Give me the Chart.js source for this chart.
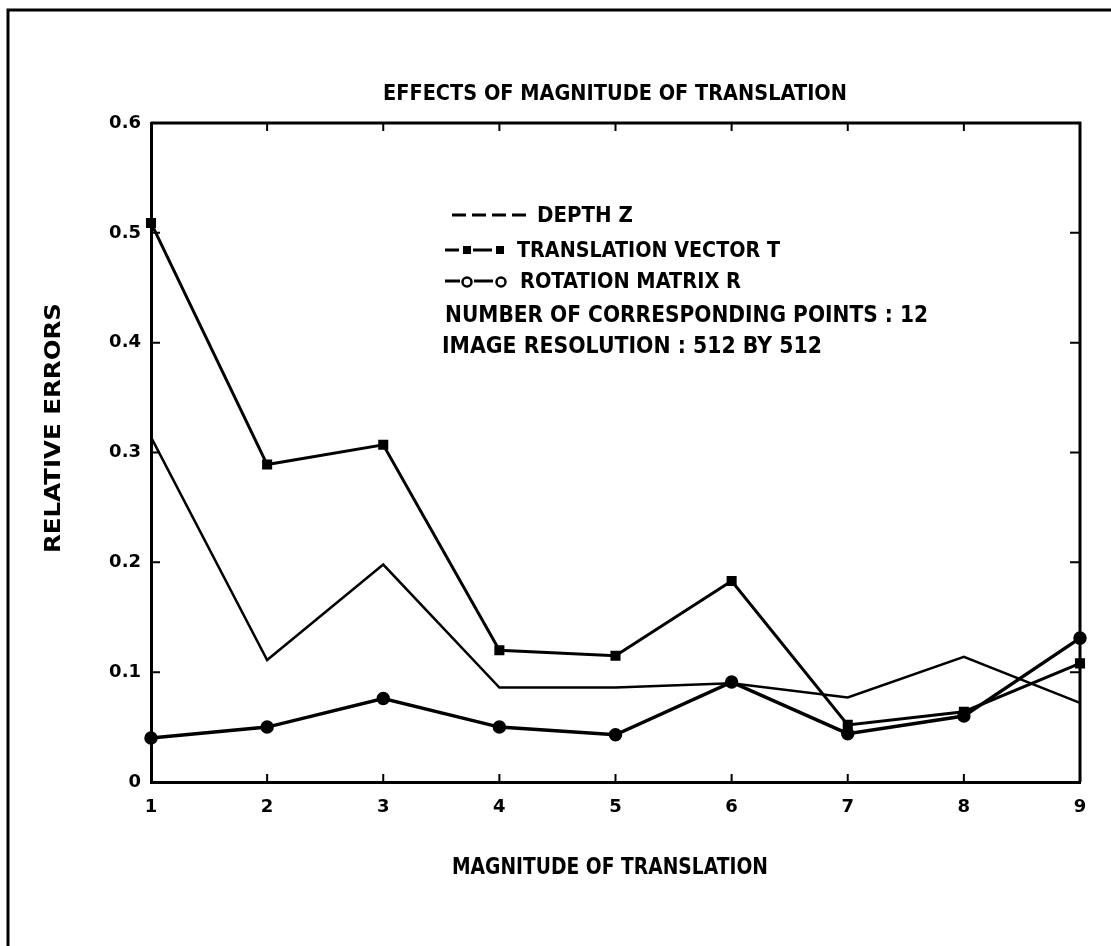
<!DOCTYPE html>
<html>
<head>
<meta charset="utf-8">
<script src="https://cdn.jsdelivr.net/npm/chart.js@4/dist/chart.umd.min.js"></script>
<style>
  html, body { margin: 0; padding: 0; background: #fff; }
  #wrap { width: 1111px; height: 946px; }
</style>
</head>
<body>
<div id="wrap"><canvas id="errChart" width="1111" height="946"></canvas></div>
<script>
const magnitudes = ["1", "2", "3", "4", "5", "6", "7", "8", "9"];
const depthZ = [0.314, 0.111, 0.198, 0.086, 0.086, 0.090, 0.077, 0.114, 0.072];
const translationT = [0.509, 0.289, 0.307, 0.120, 0.115, 0.183, 0.052, 0.064, 0.108];
const rotationR = [0.040, 0.050, 0.076, 0.050, 0.043, 0.091, 0.044, 0.060, 0.131];
const yTickLabels = ["0", "0.1", "0.2", "0.3", "0.4", "0.5", "0.6"];

const chartTitle = "EFFECTS OF MAGNITUDE OF TRANSLATION";
const xTitle = "MAGNITUDE OF TRANSLATION";
const yTitle = "RELATIVE ERRORS";
const legendNames = ["DEPTH Z", "TRANSLATION VECTOR T", "ROTATION MATRIX R"];
const noteLines = ["NUMBER OF CORRESPONDING POINTS : 12", "IMAGE RESOLUTION : 512 BY 512"];

const FONT = "'DejaVu Sans', sans-serif";

// plotter lettering is narrower than DejaVu: pick size from cap height,
// then squeeze horizontally to the wanted width
function plotText(ctx, text, x, y, capH, width, align) {
  const size = capH / 0.729;
  ctx.save();
  ctx.font = "bold " + size.toFixed(1) + "px " + FONT;
  const sx = width / ctx.measureText(text).width;
  ctx.translate(x, y);
  ctx.scale(sx, 1);
  ctx.textAlign = align;
  ctx.textBaseline = "middle";
  ctx.fillText(text, 0, 0);
  ctx.restore();
}

const decorations = {
  id: "decorations",
  afterDraw(chart) {
    const ctx = chart.ctx;
    const area = chart.chartArea;
    const xs = chart.scales.x, ys = chart.scales.y;
    ctx.save();
    ctx.strokeStyle = "#000";
    ctx.fillStyle = "#000";
    ctx.lineCap = "butt";

    // page frame (top and left only)
    ctx.lineWidth = 3;
    ctx.beginPath();
    ctx.moveTo(1111, 10); ctx.lineTo(8, 10); ctx.lineTo(8, 946);
    ctx.stroke();

    // close the plot box
    ctx.beginPath();
    ctx.moveTo(area.left, area.top); ctx.lineTo(area.right, area.top); ctx.lineTo(area.right, area.bottom);
    ctx.stroke();

    // inward ticks on all four sides
    ctx.lineWidth = 2;
    ctx.beginPath();
    xs.ticks.forEach((t, i) => {
      const px = xs.getPixelForTick(i);
      ctx.moveTo(px, area.bottom); ctx.lineTo(px, area.bottom - 8);
      ctx.moveTo(px, area.top); ctx.lineTo(px, area.top + 8);
    });
    ys.ticks.forEach((t, i) => {
      const py = ys.getPixelForTick(i);
      ctx.moveTo(area.left, py); ctx.lineTo(area.left + 9, py);
      ctx.moveTo(area.right, py); ctx.lineTo(area.right - 10, py);
    });
    ctx.stroke();

    // titles
    plotText(ctx, chartTitle, 615, 94, 16, 464, "center");
    plotText(ctx, xTitle, 610, 868, 17, 316, "center");
    ctx.save();
    ctx.translate(55, 428);
    ctx.rotate(-Math.PI / 2);
    plotText(ctx, yTitle, 0, 0, 15, 250, "center");
    ctx.restore();

    // legend block inside the plot
    ctx.lineWidth = 3;
    // depth Z: dashed
    ctx.setLineDash([14, 6]);
    ctx.beginPath(); ctx.moveTo(452, 215); ctx.lineTo(528, 215); ctx.stroke();
    ctx.setLineDash([]);
    plotText(ctx, legendNames[0], 537, 216, 16, 96, "left");

    // translation: -*-*
    ctx.beginPath();
    ctx.moveTo(445, 250); ctx.lineTo(459, 250);
    ctx.moveTo(473, 250); ctx.lineTo(492, 250);
    ctx.stroke();
    ctx.fillRect(463, 246, 8, 8);
    ctx.fillRect(496, 246, 8, 8);
    plotText(ctx, legendNames[1], 517, 251, 16, 263, "left");

    // rotation: -o-o
    ctx.beginPath();
    ctx.moveTo(445, 281); ctx.lineTo(460, 281);
    ctx.moveTo(474, 281); ctx.lineTo(493, 281);
    ctx.stroke();
    ctx.lineWidth = 2.5;
    ctx.beginPath(); ctx.arc(467, 282, 4.5, 0, Math.PI * 2); ctx.stroke();
    ctx.beginPath(); ctx.arc(501, 282, 4.5, 0, Math.PI * 2); ctx.stroke();
    plotText(ctx, legendNames[2], 520, 282, 16, 221, "left");

    plotText(ctx, noteLines[0], 445, 316, 16.5, 483, "left");
    plotText(ctx, noteLines[1], 442, 347, 16.5, 380, "left");

    ctx.restore();
  }
};

const ctx = document.getElementById("errChart").getContext("2d");
new Chart(ctx, {
  type: "line",
  data: {
    labels: magnitudes,
    datasets: [
      {
        label: legendNames[0],
        data: depthZ,
        borderColor: "#000",
        borderWidth: 2.5,
        pointRadius: 0,
        tension: 0
      },
      {
        label: legendNames[1],
        data: translationT,
        borderColor: "#000",
        backgroundColor: "#000",
        borderWidth: 3,
        pointStyle: "rect",
        pointRadius: 5,
        tension: 0
      },
      {
        label: legendNames[2],
        data: rotationR,
        borderColor: "#000",
        backgroundColor: "#000",
        borderWidth: 3.5,
        pointStyle: "circle",
        pointRadius: 5,
        tension: 0
      }
    ]
  },
  options: {
    responsive: false,
    animation: false,
    layout: { padding: { top: 123, right: 31, left: 0, bottom: 0 } },
    plugins: {
      legend: { display: false },
      title: { display: false },
      tooltip: { enabled: false }
    },
    scales: {
      x: {
        type: "category",
        offset: false,
        grid: { drawOnChartArea: false, drawTicks: false },
        border: { display: true, color: "#000", width: 3 },
        ticks: {
          color: "#000",
          padding: 15,
          maxRotation: 0,
          font: { family: FONT, weight: "bold", size: 18 }
        },
        afterFit(scale) { scale.height = 164; }
      },
      y: {
        min: 0,
        max: 0.6,
        grid: { drawOnChartArea: false, drawTicks: false },
        border: { display: true, color: "#000", width: 3 },
        ticks: {
          stepSize: 0.1,
          color: "#000",
          padding: 10,
          font: { family: FONT, weight: "bold", size: 18 },
          callback: (value, index) => yTickLabels[index]
        },
        afterFit(scale) { scale.width = 151; }
      }
    }
  },
  plugins: [decorations]
});
</script>
</body>
</html>
